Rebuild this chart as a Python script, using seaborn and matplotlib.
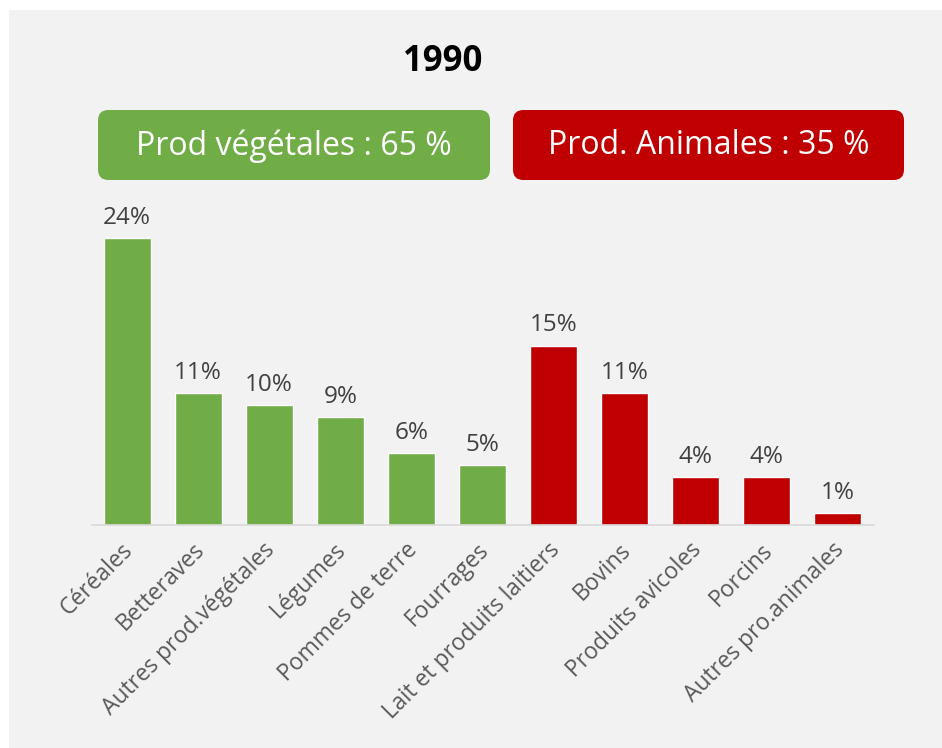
import matplotlib
matplotlib.use("Agg")
import matplotlib.pyplot as plt
from matplotlib.patches import Rectangle, FancyBboxPatch
from matplotlib.transforms import ScaledTranslation
import seaborn as sns
import pandas as pd

# Production agricole, 1990 : part de chaque poste (%)
categories = [
    "Céréales", "Betteraves", "Autres prod.végétales", "Légumes",
    "Pommes de terre", "Fourrages", "Lait et produits laitiers", "Bovins",
    "Produits avicoles", "Porcins", "Autres pro.animales",
]
values = [24, 11, 10, 9, 6, 5, 15, 11, 4, 4, 1]
groups = ["veg"] * 6 + ["ani"] * 5
title = "1990"
group_labels = {"veg": "Prod végétales : 65 %", "ani": "Prod. Animales : 35 %"}

GREEN = "#70AD47"
RED = "#C00000"
BG = "#F2F2F2"
group_colors = {"veg": GREEN, "ani": RED}

df = pd.DataFrame({"categorie": categories, "part": values, "groupe": groups})

sns.set_theme(style="white")
plt.rcParams["font.family"] = ["Open Sans", "DejaVu Sans"]

W, H = 942, 748
fig = plt.figure(figsize=(W / 100, H / 100), dpi=100)
fig.patch.set_facecolor("white")


def fx(px):
    return px / W


def fy(py):
    return 1 - py / H


# light grey panel behind the chart
fig.patches.append(Rectangle((fx(9), 0), 1 - fx(9), fy(10), transform=fig.transFigure,
                             facecolor=BG, edgecolor="none", zorder=-5))

ax = fig.add_axes([fx(91.5), fy(525), fx(873.5) - fx(91.5), fy(202) - fy(525)])
ax.set_facecolor("none")
ax.set_zorder(2)

palette = [group_colors[g] for g in groups]
sns.barplot(data=df, x="categorie", y="part", hue="categorie", palette=palette,
            legend=False, width=0.66, saturation=1, ax=ax)

ax.set_ylim(0, 27)
ax.set_xlim(-0.5, len(categories) - 0.5)
ax.set_xlabel("")
ax.set_ylabel("")
ax.set_yticks([])
for s in ["top", "left", "right"]:
    ax.spines[s].set_visible(False)
ax.spines["bottom"].set_color("#D9D9D9")
ax.spines["bottom"].set_linewidth(1.2)

ax.tick_params(axis="x", length=0, pad=8)
ax.set_xticks(range(len(categories)))
ax.set_xticklabels(categories, rotation=45, ha="right", rotation_mode="anchor",
                   fontsize=16.5, color="#595959")
# nudge the slanted labels slightly left so they end under their bars
shift = ScaledTranslation(-6 / 100, -2 / 100, fig.dpi_scale_trans)
for lab in ax.get_xticklabels():
    lab.set_transform(lab.get_transform() + shift)

for i, v in enumerate(values):
    ax.annotate(f"{v}%", (i, v), xytext=(0, 6), textcoords="offset points",
                ha="center", va="bottom", fontsize=17.5, color="#404040")

# title
fig.text(fx(443), fy(62), title, ha="center", va="center",
         fontsize=25, fontweight="bold", color="black")

# group banners
for key, (x0, x1) in {"veg": (98, 490), "ani": (513, 904)}.items():
    y0, y1 = 110, 180
    box = FancyBboxPatch((fx(x0), fy(y1)), fx(x1) - fx(x0), fy(y0) - fy(y1),
                         boxstyle="round,pad=0,rounding_size=0.011",
                         transform=fig.transFigure, facecolor=group_colors[key],
                         edgecolor="none", zorder=1, mutation_aspect=W / H)
    fig.patches.append(box)
    fig.text(fx((x0 + x1) / 2), fy((y0 + y1) / 2 + 1), group_labels[key],
             ha="center", va="center", fontsize=23, color="white", zorder=2)

fig.savefig("out.png", dpi=100, facecolor=fig.get_facecolor())
